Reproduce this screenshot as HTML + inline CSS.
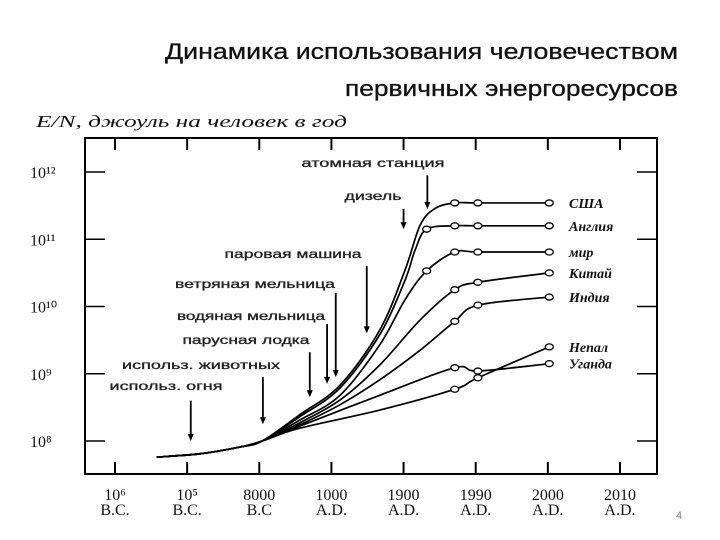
<!DOCTYPE html>
<html><head><meta charset="utf-8"><style>
body{margin:0;background:#fff;width:720px;height:540px;overflow:hidden}
svg{display:block}
.a{font-family:"Liberation Sans",sans-serif;font-size:12px;fill:#222;stroke:#222;stroke-width:0.3}
.l{font-family:"Liberation Serif",serif;font-style:italic;font-weight:bold;font-size:14px;fill:#111}
.t{font-family:"Liberation Serif",serif;font-size:16px;fill:#111}
</style></head><body>
<svg id="c" width="720" height="540">
<text x="165" y="59" textLength="513" lengthAdjust="spacingAndGlyphs" font-family="Liberation Sans,sans-serif" font-size="22" fill="#111" stroke="#111" stroke-width="0.3">Динамика использования человечеством</text>
<text x="345" y="96" textLength="333" lengthAdjust="spacingAndGlyphs" font-family="Liberation Sans,sans-serif" font-size="22" fill="#111" stroke="#111" stroke-width="0.3">первичных энергоресурсов</text>
<text x="36" y="127" textLength="311" lengthAdjust="spacingAndGlyphs" font-family="Liberation Serif,serif" font-style="italic" font-size="17" fill="#111">E/N, джоуль на человек в год</text>
<rect x="85" y="138" width="572" height="336" fill="none" stroke="#000" stroke-width="2"/>
<text x="676" y="519" font-family="Liberation Sans,sans-serif" font-size="11" fill="#888">4</text>
<g id="g"></g>
</svg>
<script>
const xTickTop=["10⁶","10⁵","8000","1000","1900","1990","2000","2010"];
const xTickBot=["B.C.","B.C.","B.C","A.D.","A.D.","A.D.","A.D.","A.D."];
const yTicks=[8,9,10,11,12];
const yTickLabels=["10⁸","10⁹","10¹⁰","10¹¹","10¹²"];
const shared=[[0.58,7.76],[1.18,7.81],[1.73,7.91],[2.04,8.0]];
const names=["США","Англия","мир","Китай","Индия","Непал","Уганда"];
const usa=[[2.56,8.39],[3.12,8.83],[3.67,9.65],[4.02,10.54],[4.23,11.21],[4.44,11.46],[4.71,11.54],[5.03,11.54],[6.02,11.54]];
const england=[[2.56,8.36],[3.12,8.79],[3.67,9.58],[4.02,10.39],[4.16,10.84],[4.32,11.15],[4.71,11.2],[5.03,11.2],[6.02,11.2]];
const world=[[2.56,8.31],[3.12,8.68],[3.67,9.43],[4.02,10.1],[4.32,10.53],[4.71,10.81],[5.03,10.81],[6.02,10.81]];
const china=[[2.56,8.27],[3.12,8.61],[3.67,9.13],[4.23,9.8],[4.71,10.25],[5.03,10.36],[6.02,10.5]];
const india=[[2.56,8.24],[3.12,8.54],[3.67,8.91],[4.23,9.35],[4.71,9.78],[5.03,10.02],[6.02,10.14]];
const nepal=[[2.56,8.19],[3.67,8.46],[4.71,8.77],[5.03,8.94],[6.02,9.4]];
const uganda=[[2.56,8.22],[3.67,8.68],[4.71,9.09],[5.03,9.04],[6.02,9.15]];
const markerIdx=[[6,7,8],[5,6,7,8],[4,5,6,7],[4,5,6],[4,5,6],[2,3,4],[2,3,4]];
const annText=["атомная станция","дизель","паровая машина","ветряная мельница","водяная мельница","парусная лодка","использ. животных","использ. огня"];
const annX=[4.33,4.0,3.49,3.06,2.94,2.7,2.05,1.05];
const annTop=[11.95,11.45,10.6,10.2,9.74,9.32,8.95,8.6];
const annBot=[11.45,11.15,9.6,8.95,8.85,8.65,8.25,8.0];
const annLabelX=[373,373,293,255,251,246,201,166];
const annLabelY=[167,200,258,288,320,344,369,390];
const annW=[143,57,137,160,148,127,158,113];
const series=[usa,england,world,china,india,nepal,uganda];
const X=i=>115+i*72.14, Y=v=>172+(12-v)*67.25;
const g=document.getElementById('g'),NS="http://www.w3.org/2000/svg";
function mk(t,a){const e=document.createElementNS(NS,t);for(const k in a)e.setAttribute(k,a[k]);g.appendChild(e);return e;}
xTickTop.forEach((s,i)=>{
 let e=mk('line',{x1:X(i),x2:X(i),y1:138,y2:150,stroke:'#000','stroke-width':2});
 
 
 e=mk('line',{x1:X(i),x2:X(i),y1:462,y2:474,stroke:'#000','stroke-width':2});
 
 
 e=mk('text',{x:X(i),y:500,'text-anchor':'middle',class:'t'});e.textContent=s;
 
 
 e=mk('text',{x:X(i),y:515,'text-anchor':'middle',class:'t'});e.textContent=xTickBot[i];
 
 
});
yTicks.forEach((v,i)=>{
 let e=mk('line',{x1:85,x2:105,y1:Y(v),y2:Y(v),stroke:'#000','stroke-width':1.5});
 
 
 e=mk('line',{x1:637,x2:657,y1:Y(v),y2:Y(v),stroke:'#000','stroke-width':1.5});
 
 
 e=mk('text',{x:30,y:Y(v)+6,class:'t'});e.textContent=yTickLabels[i];
 
 
});
function path(pts){pts=pts.map(p=>[X(p[0]),Y(p[1])]);let d='M'+pts[0];
 for(let i=0;i<pts.length-1;i++){const p0=pts[i-1]||pts[i],p1=pts[i],p2=pts[i+1],p3=pts[i+2]||p2;
 d+=`C${p1[0]+(p2[0]-p0[0])/6},${p1[1]+(p2[1]-p0[1])/6} ${p2[0]-(p3[0]-p1[0])/6},${p2[1]-(p3[1]-p1[1])/6} ${p2[0]},${p2[1]}`;}return d;}
series.forEach((s,k)=>{
 let e=mk('path',{d:path(shared.concat(s)),fill:'none',stroke:'#000','stroke-width':1.7});
 
 
 markerIdx[k].forEach(j=>{const p=s[j];
  const m=mk('ellipse',{cx:X(p[0]),cy:Y(p[1]),rx:4,ry:3,fill:'#fff',stroke:'#000','stroke-width':1.3});
  
  });
 const last=s[s.length-1];
 e=mk('text',{x:569,y:Y(last[1])+5,class:'l'});e.textContent=names[k];
 
 
});
annText.forEach((t,i)=>{
 let e=mk('text',{x:annLabelX[i]-annW[i]/2,y:annLabelY[i],textLength:annW[i],lengthAdjust:'spacingAndGlyphs',class:'a'});e.textContent=t;
 
 
 const x=X(annX[i]),y1=Y(annTop[i]),y2=Y(annBot[i]);
 e=mk('line',{x1:x,x2:x,y1:y1,y2:y2-5,stroke:'#000','stroke-width':1.8});
 
 
 e=mk('path',{d:`M${x-3},${y2-7}L${x+3},${y2-7}L${x},${y2}Z`,fill:'#000'});
 
 
});
</script>
</body></html>
